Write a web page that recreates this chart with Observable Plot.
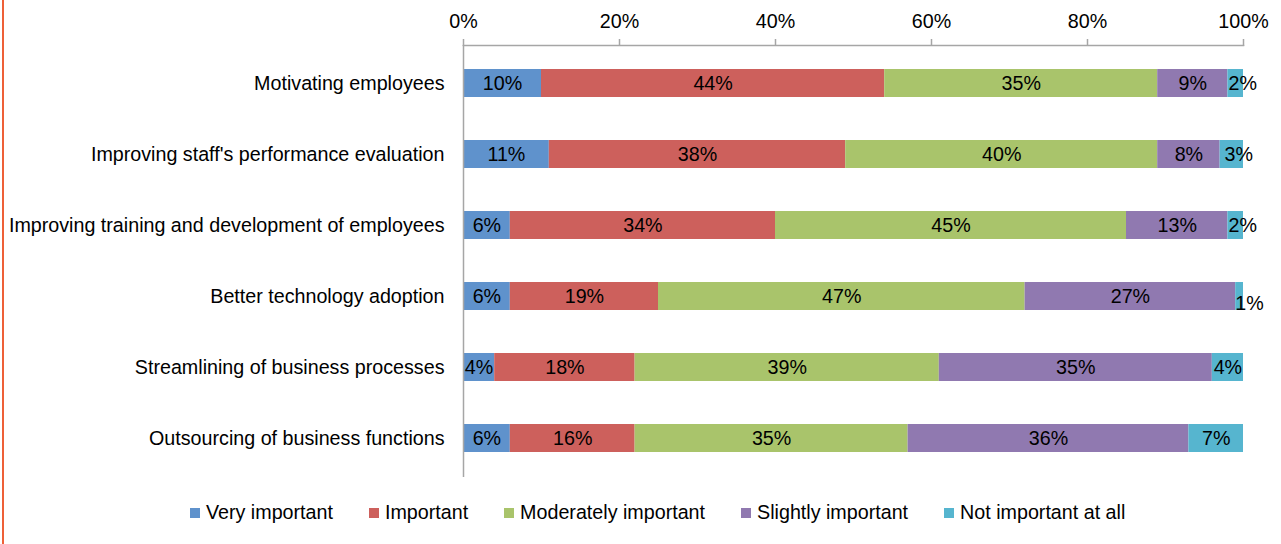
<!DOCTYPE html>
<html>
<head>
<meta charset="utf-8">
<script src="https://cdn.jsdelivr.net/npm/d3@7"></script>
<script src="https://cdn.jsdelivr.net/npm/@observablehq/plot@0.6"></script>
<style>
  html, body { margin: 0; padding: 0; background: #fff; }
  body { width: 1281px; height: 544px; position: relative; overflow: hidden;
         font-family: "Liberation Sans", Arial, sans-serif; }
  #edge { position: absolute; left: 2px; top: 0; width: 2px; height: 544px; background: #EE6038; }
  #chart { position: absolute; left: 0; top: 0; }
  #legend { position: absolute; left: 190px; top: 501px; display: flex; align-items: center;
            font-size: 19.7px; color: #000; white-space: nowrap; }
  .item { display: flex; align-items: center; margin-right: 36px; }
  .sw { width: 10px; height: 10px; margin-right: 6px; }
</style>
</head>
<body>
<div id="edge"></div>
<div id="chart"></div>
<div id="legend"></div>
<script>
const categories = [
  "Motivating employees",
  "Improving staff's performance evaluation",
  "Improving training and development of employees",
  "Better technology adoption",
  "Streamlining of business processes",
  "Outsourcing of business functions"
];
const levels = ["Very important", "Important", "Moderately important", "Slightly important", "Not important at all"];
const colors = ["#5F92CC", "#CD605C", "#A9C46B", "#9079B0", "#56B5CF"];
const veryImportant       = [10, 11, 6, 6, 4, 6];
const important           = [44, 38, 34, 19, 18, 16];
const moderatelyImportant = [35, 40, 45, 47, 39, 35];
const slightlyImportant   = [9, 8, 13, 27, 35, 36];
const notImportant        = [2, 3, 2, 1, 4, 7];
const xTicks = [0, 20, 40, 60, 80, 100];

const series = [veryImportant, important, moderatelyImportant, slightlyImportant, notImportant];
const rows = [];
categories.forEach((cat, i) => {
  let acc = 0;
  series.forEach((s, j) => {
    const v = s[i];
    rows.push({cat, level: levels[j], value: v, x1: acc, x2: acc + v, mid: acc + v / 2,
               small: j === 4 && v <= 3 && v > 1, low: j === 4 && v <= 1});
    acc += v;
  });
});

const font = "Liberation Sans, Arial, sans-serif";
const fs = 19.7;
const chart = Plot.plot({
  width: 1281,
  height: 490,
  marginLeft: 463,
  marginRight: 38,
  marginTop: 45,
  marginBottom: 13,
  style: {fontFamily: font, fontSize: fs + "px", color: "#000", background: "transparent"},
  x: {domain: [0, 100], ticks: xTicks},
  y: {domain: categories, paddingInner: 0.6, paddingOuter: 0.317},
  color: {domain: levels, range: colors},
  marks: [
    Plot.barX(rows, {x1: "x1", x2: "x2", y: "cat", fill: "level", inset: 0}),
    Plot.text(rows.filter(d => !d.small && !d.low), {x: "mid", y: "cat", text: d => d.value + "%", fill: "#000", fontSize: fs}),
    Plot.text(rows.filter(d => d.small), {x: "mid", y: "cat", text: d => d.value + "%", fill: "#000", fontSize: fs, dx: 7}),
    Plot.text(rows.filter(d => d.low), {x: "mid", y: "cat", text: d => d.value + "%", fill: "#000", fontSize: fs, dx: 10, dy: 7}),
    Plot.axisX({anchor: "top", ticks: xTicks, tickFormat: d => d + "%", tickSize: 7, tickPadding: 11,
                stroke: "#A6A6A6", strokeWidth: 1.5, fill: "#000", fontSize: fs, label: null}),
    Plot.axisY({anchor: "left", tickSize: 0, tickPadding: 19, fill: "#000", fontSize: fs, label: null}),
    Plot.frame({anchor: "top", stroke: "#A6A6A6", strokeWidth: 1.5}),
    Plot.ruleX([0], {stroke: "#A6A6A6", strokeWidth: 1.5})
  ]
});
document.getElementById("chart").appendChild(chart);

const legend = document.getElementById("legend");
levels.forEach((l, i) => {
  const it = document.createElement("div");
  it.className = "item";
  const sw = document.createElement("div");
  sw.className = "sw";
  sw.style.background = colors[i];
  const tx = document.createElement("span");
  tx.textContent = l;
  it.appendChild(sw);
  it.appendChild(tx);
  legend.appendChild(it);
});
</script>
</body>
</html>
